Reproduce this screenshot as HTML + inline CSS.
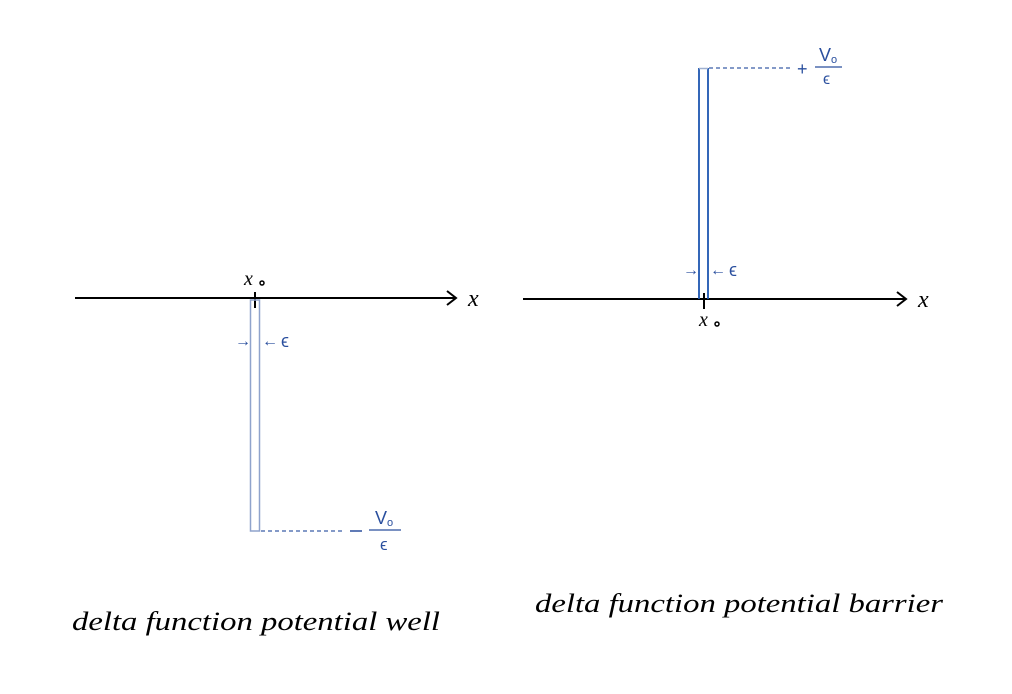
<!DOCTYPE html>
<html><head><meta charset="utf-8"><style>html,body{margin:0;padding:0;background:#fff}</style></head>
<body>
<svg width="1012" height="689" viewBox="0 0 1012 689" xmlns="http://www.w3.org/2000/svg">
<g font-family="Liberation Serif, serif" font-style="italic">
<!-- left axis -->
<line x1="75" y1="298" x2="455" y2="298" stroke="#000" stroke-width="2"/>
<path d="M447 291 L456 298 L447 305" fill="none" stroke="#000" stroke-width="2"/>
<text x="468" y="306" font-size="24">x</text>
<line x1="255" y1="292" x2="255" y2="308" stroke="#000" stroke-width="2"/>
<text x="244" y="285" font-size="20">x</text><circle cx="262" cy="283" r="2" fill="none" stroke="#000" stroke-width="1.5"/>
<rect x="250.5" y="300" width="9" height="231" fill="none" stroke="#8fa3cc" stroke-width="1.5"/>
<line x1="261" y1="531" x2="342" y2="531" stroke="#3b5ea8" stroke-width="1.2" stroke-dasharray="4,3"/>
<line x1="350" y1="531" x2="362" y2="531" stroke="#2a4f9e" stroke-width="1.5"/>
<line x1="369" y1="530" x2="401" y2="530" stroke="#2a4f9e" stroke-width="1.2"/>
<text x="375" y="524" font-size="18" fill="#2a4f9e" font-style="normal" font-family="Liberation Sans, sans-serif">V</text>
<text x="387" y="526" font-size="11" fill="#2a4f9e" font-style="normal" font-family="Liberation Sans, sans-serif">o</text>
<text x="380" y="550" font-size="17" fill="#2a4f9e" font-style="normal" font-family="Liberation Sans, sans-serif">ϵ</text>
<text x="235" y="346" font-size="16" fill="#2a4f9e" font-style="normal" font-family="Liberation Sans, sans-serif">→</text>
<text x="262" y="346" font-size="16" fill="#2a4f9e" font-style="normal" font-family="Liberation Sans, sans-serif">←</text>
<text x="281" y="347" font-size="18" fill="#2a4f9e" font-style="normal" font-family="Liberation Sans, sans-serif">ϵ</text>
<text x="72" y="630" font-size="26" textLength="368" lengthAdjust="spacingAndGlyphs">delta function potential well</text>

<!-- right axis -->
<line x1="523" y1="299" x2="905" y2="299" stroke="#000" stroke-width="2"/>
<path d="M897 292 L906 299 L897 306" fill="none" stroke="#000" stroke-width="2"/>
<text x="918" y="307" font-size="24">x</text>
<line x1="704" y1="293" x2="704" y2="309" stroke="#000" stroke-width="2"/>
<text x="699" y="326" font-size="20">x</text><circle cx="717" cy="324" r="2" fill="none" stroke="#000" stroke-width="1.5"/>
<line x1="699" y1="68" x2="699" y2="299" stroke="#1e56b0" stroke-width="1.8"/>
<line x1="708" y1="68" x2="708" y2="299" stroke="#1e56b0" stroke-width="1.8"/>
<line x1="699" y1="68.5" x2="708" y2="68.5" stroke="#9fb0d0" stroke-width="1.5"/>
<line x1="709" y1="68" x2="790" y2="68" stroke="#3b5ea8" stroke-width="1.2" stroke-dasharray="4,3"/>
<text x="797" y="75" font-size="18" fill="#2a4f9e" font-style="normal" font-family="Liberation Sans, sans-serif">+</text>
<line x1="815" y1="67" x2="842" y2="67" stroke="#2a4f9e" stroke-width="1.2"/>
<text x="819" y="61" font-size="18" fill="#2a4f9e" font-style="normal" font-family="Liberation Sans, sans-serif">V</text>
<text x="831" y="63" font-size="11" fill="#2a4f9e" font-style="normal" font-family="Liberation Sans, sans-serif">o</text>
<text x="823" y="84" font-size="16" fill="#2a4f9e" font-style="normal" font-family="Liberation Sans, sans-serif">ϵ</text>
<text x="683" y="275" font-size="16" fill="#2a4f9e" font-style="normal" font-family="Liberation Sans, sans-serif">→</text>
<text x="710" y="275" font-size="16" fill="#2a4f9e" font-style="normal" font-family="Liberation Sans, sans-serif">←</text>
<text x="729" y="276" font-size="18" fill="#2a4f9e" font-style="normal" font-family="Liberation Sans, sans-serif">ϵ</text>
<text x="535" y="612" font-size="26" textLength="408" lengthAdjust="spacingAndGlyphs">delta function potential barrier</text>
</g>
</svg>
</body></html>
